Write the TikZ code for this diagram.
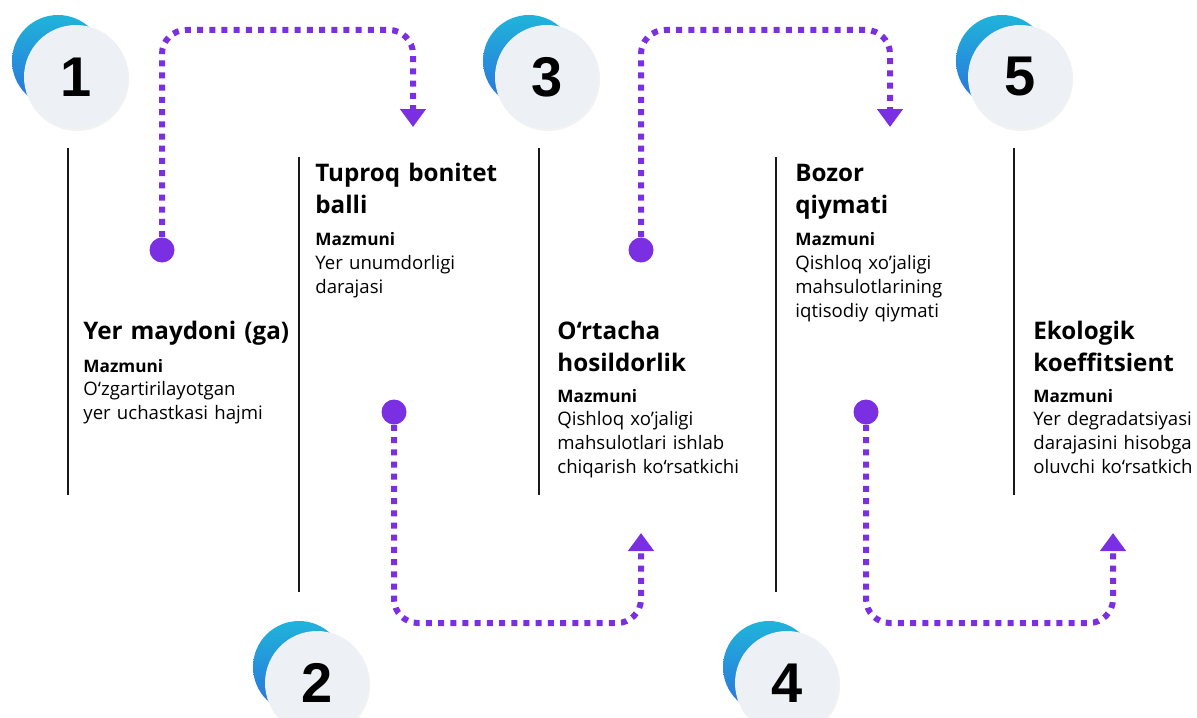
\documentclass[tikz,border=0pt]{standalone}
\usepackage{fontspec}
\setmainfont{Open Sans}
\newfontfamily\numfont{Liberation Sans}
\usetikzlibrary{arrows.meta,shadows}
\definecolor{flowpurple}{HTML}{7B2FE3}
\definecolor{ringcyan}{HTML}{1FB4DA}
\definecolor{ringblue}{HTML}{2C6FDC}
\definecolor{facegray}{HTML}{EDF0F5}

\begin{document}
\begin{tikzpicture}[x=0.5pt,y=-0.5pt]
		\tikzstyle{ring}=[circle,minimum size=46pt,inner sep=0pt,top color=ringcyan,bottom color=ringblue]
		\tikzstyle{face}=[circle,minimum size=52pt,inner sep=0pt,fill=facegray,drop shadow={opacity=0.1,shadow xshift=0.6pt,shadow yshift=-1pt},font=\numfont\bfseries\fontsize{28}{28}\selectfont]
		\tikzstyle{rule}=[line width=1.4pt,black!90]
		\tikzstyle{flow}=[flowpurple,line width=3pt,dash pattern=on 3pt off 3.1pt,rounded corners=12pt,-{Triangle[width=12.5pt,length=9pt]}]
		\tikzstyle{dot}=[circle,fill=flowpurple,minimum size=12.5pt,inner sep=0pt]
		\tikzstyle{headtext}=[anchor=base west,inner sep=0pt,text width=150pt,align=left,font=\bfseries\fontsize{12.1}{16}\selectfont]
		\tikzstyle{subhead}=[anchor=base west,inner sep=0pt,font=\bfseries\fontsize{8.6}{12}\selectfont]
		\tikzstyle{bodytext}=[anchor=base west,inner sep=0pt,text width=150pt,align=left,font=\fontsize{9.3}{12}\selectfont]
	\useasboundingbox (0,0) rectangle (1197,717);
	% number badges
	\foreach \n/\x/\y in {1/76/77,2/317/683,3/547/77,4/787/683,5/1020/77}{
		\node[ring] (r\n) at (\x-18,\y-16) {};
		\node[face] (n\n) at (\x,\y) {\n};
	}
	% separators
	\foreach \x/\a/\b in {68/148/495,299/157/592,539/148/495,776/157/592,1014/148/495}
		\draw[rule] (\x,\a) -- (\x,\b);
	% texts
	\node[headtext] (h1) at (83,339) {Yer maydoni (ga)};
	\node[headtext] (h2) at (315,181) {Tuproq bonitet\\balli};
	\node[headtext] (h3) at (557,339) {O‘rtacha\\hosildorlik};
	\node[headtext] (h4) at (795,181) {Bozor\\qiymati};
	\node[headtext] (h5) at (1033,339) {Ekologik\\koeffitsient};
	\foreach \i/\x/\y in {1/83/372,2/315/245,3/557/402,4/795/245,5/1033/402}
		\node[subhead] (m\i) at (\x,\y) {Mazmuni};
	\node[bodytext] (b1) at (83,395) {O‘zgartirilayotgan\\yer uchastkasi hajmi};
	\node[bodytext] (b2) at (315,269) {Yer unumdorligi\\darajasi};
	\node[bodytext] (b3) at (557,425) {Qishloq xo’jaligi\\mahsulotlari ishlab\\chiqarish ko‘rsatkichi};
	\node[bodytext] (b4) at (795,269) {Qishloq xo’jaligi\\mahsulotlarining\\iqtisodiy qiymati};
	\node[bodytext] (b5) at (1033,425) {Yer degradatsiyasi\\darajasini hisobga\\oluvchi ko‘rsatkich};
	% dotted flow
	\node[dot] (d1) at (162,250) {};
	\node[dot] (d2) at (394,412) {};
	\node[dot] (d3) at (641,250) {};
	\node[dot] (d4) at (866,412) {};
	\coordinate (t1) at (413,127);
	\coordinate (t2) at (641,533);
	\coordinate (t3) at (890,127);
	\coordinate (t4) at (1113,533);
	\draw[flow] (d1) -- ++(0,-220) -| (t1);
	\draw[flow] (d2) -- ++(0,211) -| (t2);
	\draw[flow] (d3) -- ++(0,-220) -| (t3);
	\draw[flow] (d4) -- ++(0,211) -| (t4);
\end{tikzpicture}
\end{document}
